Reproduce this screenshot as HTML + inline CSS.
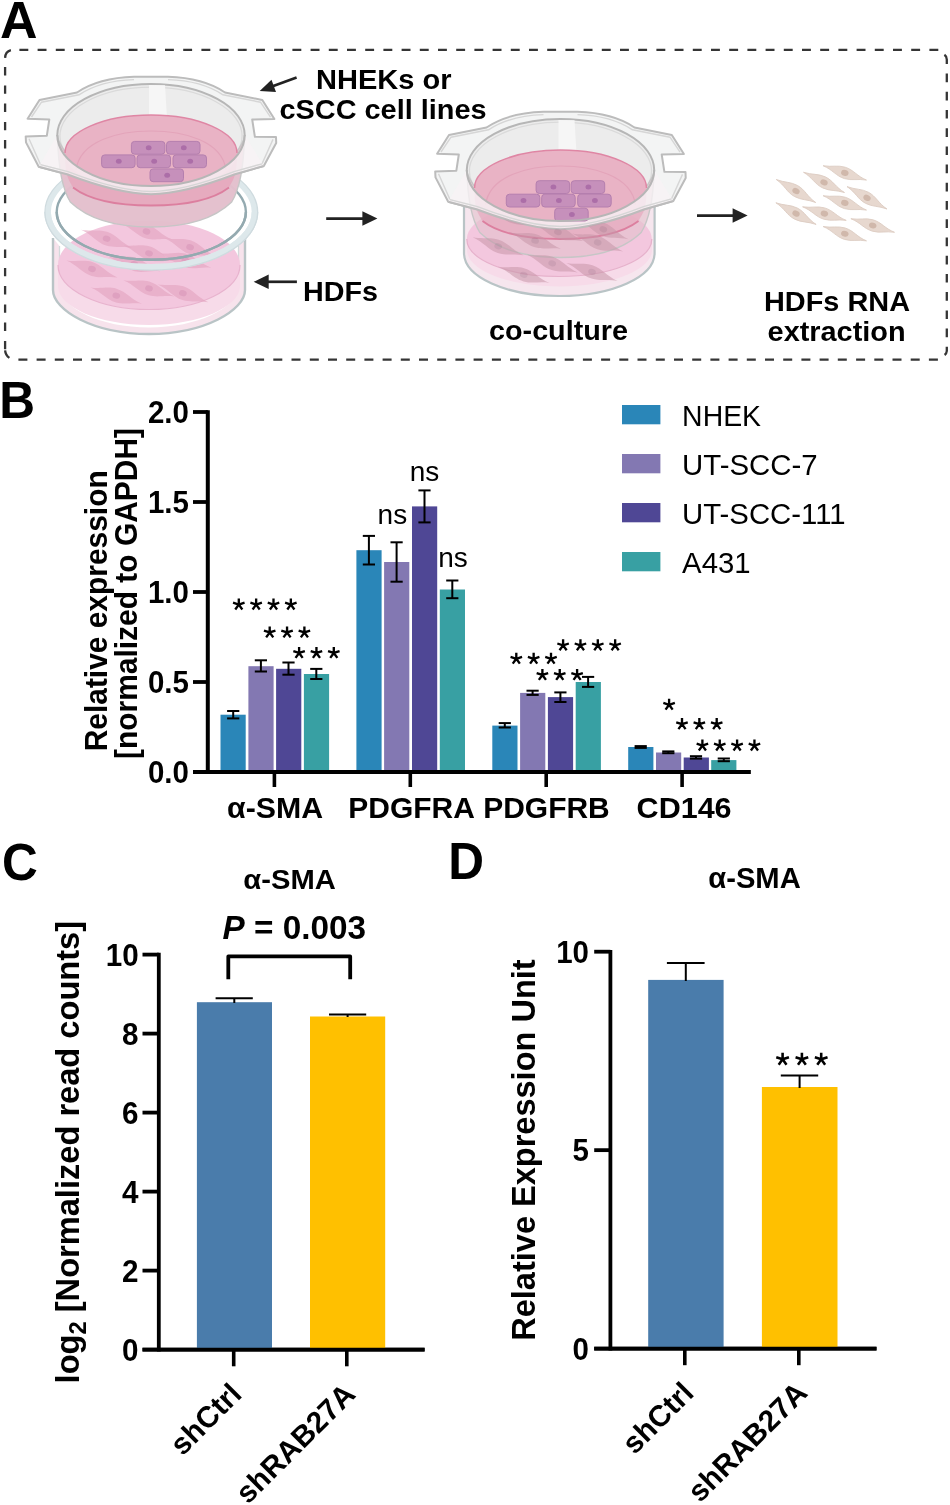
<!DOCTYPE html>
<html><head><meta charset="utf-8"><title>Figure</title>
<style>html,body{margin:0;padding:0;background:#fff;}svg{display:block;will-change:transform;font-family:'Liberation Sans', sans-serif;}</style>
</head><body>
<svg width="950" height="1505" viewBox="0 0 950 1505">
<rect x="0" y="0" width="950" height="1505" fill="#fff"/>
<text transform="translate(0.1 38.1) scale(1.0 1)" x="0" y="0" font-size="51.9" font-weight="bold" text-anchor="start" fill="#000">A</text>
<text transform="translate(-0.8 418.3) scale(0.955 1)" x="0" y="0" font-size="51.9" font-weight="bold" text-anchor="start" fill="#000">B</text>
<text transform="translate(1.9 879.6) scale(0.955 1)" x="0" y="0" font-size="51.9" font-weight="bold" text-anchor="start" fill="#000">C</text>
<text transform="translate(448.3 879.4) scale(0.955 1)" x="0" y="0" font-size="51.9" font-weight="bold" text-anchor="start" fill="#000">D</text>
<defs><clipPath id="clipFront"><rect x="30" y="212" width="250" height="70"/></clipPath><clipPath id="clipR"><path transform="translate(409.5 35)" d="M38.7,166.8 L67,174.3 C95,185 125,193.8 151,194.3 C177,193.8 207,185 235,174.3 L263.8,166 L264.5,270 L38.7,270 Z"/></clipPath></defs>
<path d="M19.4,49.8h8.9M37.6,49.8h8.9M55.8,49.8h8.9M74.0,49.8h8.9M92.2,49.8h8.9M110.4,49.8h8.9M128.6,49.8h8.9M146.8,49.8h8.9M165.0,49.8h8.9M183.2,49.8h8.9M201.4,49.8h8.9M219.6,49.8h8.9M237.8,49.8h8.9M256.0,49.8h8.9M274.2,49.8h8.9M292.4,49.8h8.9M310.6,49.8h8.9M328.8,49.8h8.9M347.0,49.8h8.9M365.2,49.8h8.9M383.4,49.8h8.9M401.6,49.8h8.9M419.8,49.8h8.9M438.0,49.8h8.9M456.2,49.8h8.9M474.4,49.8h8.9M492.6,49.8h8.9M510.8,49.8h8.9M529.0,49.8h8.9M547.2,49.8h8.9M565.4,49.8h8.9M583.6,49.8h8.9M601.8,49.8h8.9M620.0,49.8h8.9M638.2,49.8h8.9M656.4,49.8h8.9M674.6,49.8h8.9M692.8,49.8h8.9M711.0,49.8h8.9M729.2,49.8h8.9M747.4,49.8h8.9M765.6,49.8h8.9M783.8,49.8h8.9M802.0,49.8h8.9M820.2,49.8h8.9M838.4,49.8h8.9M856.6,49.8h8.9M874.8,49.8h8.9M893.0,49.8h8.9M911.2,49.8h8.9M929.4,49.8h8.9M946.8,73.5v8.7M946.8,91.7v8.7M946.8,109.9v8.7M946.8,128.2v8.7M946.8,146.4v8.7M946.8,164.6v8.7M946.8,182.8v8.7M946.8,201.0v8.7M946.8,219.3v8.7M946.8,237.5v8.7M946.8,255.7v8.7M946.8,273.9v8.7M946.8,292.1v8.7M946.8,310.4v8.7M946.8,328.6v8.7M937.9,359.6h-9M919.7,359.6h-9M901.5,359.6h-9M883.3,359.6h-9M865.1,359.6h-9M846.8,359.6h-9M828.6,359.6h-9M810.4,359.6h-9M792.2,359.6h-9M774.0,359.6h-9M755.8,359.6h-9M737.6,359.6h-9M719.4,359.6h-9M701.2,359.6h-9M683.0,359.6h-9M664.8,359.6h-9M646.5,359.6h-9M628.3,359.6h-9M610.1,359.6h-9M591.9,359.6h-9M573.7,359.6h-9M555.5,359.6h-9M537.3,359.6h-9M519.1,359.6h-9M500.9,359.6h-9M482.6,359.6h-9M464.4,359.6h-9M446.2,359.6h-9M428.0,359.6h-9M409.8,359.6h-9M391.6,359.6h-9M373.4,359.6h-9M355.2,359.6h-9M337.0,359.6h-9M318.8,359.6h-9M300.5,359.6h-9M282.3,359.6h-9M264.1,359.6h-9M245.9,359.6h-9M227.7,359.6h-9M209.5,359.6h-9M191.3,359.6h-9M173.1,359.6h-9M154.9,359.6h-9M136.7,359.6h-9M118.4,359.6h-9M100.2,359.6h-9M82.0,359.6h-9M63.8,359.6h-9M45.6,359.6h-9M27.4,359.6h-9M5.1,340.9v8.4M5.1,322.6v8.4M5.1,304.4v8.4M5.1,286.1v8.4M5.1,267.9v8.4M5.1,249.6v8.4M5.1,231.4v8.4M5.1,213.1v8.4M5.1,194.9v8.4M5.1,176.6v8.4M5.1,158.4v8.4M5.1,140.1v8.4M5.1,121.9v8.4M5.1,103.6v8.4M5.1,85.4v8.4M5.1,67.1v8.4M5.1,57.9Q5.3,51.6 10.9,50.1M944.4,54.8Q946.7,56.3 946.8,59.5V63.9M946.8,346.8V351Q946.6,353.6 944.6,355M5.1,350.3Q5.5,355.2 9.4,357.9" fill="none" stroke="#353535" stroke-width="2.3"/>
<g><path d="M53,238 L53,290 C53,310 93,334 149,334 C205,334 245,310 245,290 L245,238 L238.5,246 L238.5,288 C236,308 198,327.5 149,327.5 C100,327.5 62,308 59.5,288 L59.5,246 Z" fill="#f7e3ec" stroke="none"/><path d="M53,238 L53,290 C53,310 93,334 149,334 C205,334 245,310 245,290 L245,238" fill="none" stroke="#b9c4c6" stroke-width="2.4"/><path d="M59.5,246 L59.5,288 M238.5,246 L238.5,288" fill="none" stroke="#d3dadb" stroke-width="1.3"/><path d="M58,268 L58,286 C58,307 99,325 149,325 C199,325 240,307 240,286 L240,268 Z" fill="#f7dbe9"/><ellipse cx="149" cy="265" rx="91" ry="44.5" fill="#f3c7de"/><path d="M58,265 A91,44.5 0 0 0 240,265" fill="none" stroke="#e8b3ce" stroke-width="1.2"/><g transform="translate(106.6 238.7) rotate(16)" opacity="0.62"><path d="M-27.0,-1.6 C-16.2,-2.7 -10.8,-7.0 -1.4,-6.8 C9.4,-6.2 14.9,0.0 27.0,1.6 C16.2,2.7 10.8,7.0 1.4,6.8 C-9.4,6.2 -14.9,-0.0 -27.0,-1.6 Z" fill="#e3a5c0"/><ellipse cx="0" cy="0" rx="3.9" ry="3.0" fill="#d48aae"/></g><g transform="translate(146.5 231.5) rotate(14)" opacity="0.62"><path d="M-27.0,-1.6 C-16.2,-2.7 -10.8,-7.0 -1.4,-6.8 C9.4,-6.2 14.9,0.0 27.0,1.6 C16.2,2.7 10.8,7.0 1.4,6.8 C-9.4,6.2 -14.9,-0.0 -27.0,-1.6 Z" fill="#e3a5c0"/><ellipse cx="0" cy="0" rx="3.9" ry="3.0" fill="#d48aae"/></g><g transform="translate(190.1 247.2) rotate(16)" opacity="0.62"><path d="M-27.0,-1.6 C-16.2,-2.7 -10.8,-7.0 -1.4,-6.8 C9.4,-6.2 14.9,0.0 27.0,1.6 C16.2,2.7 10.8,7.0 1.4,6.8 C-9.4,6.2 -14.9,-0.0 -27.0,-1.6 Z" fill="#e3a5c0"/><ellipse cx="0" cy="0" rx="3.9" ry="3.0" fill="#d48aae"/></g><g transform="translate(149.0 253.3) rotate(14)" opacity="0.62"><path d="M-27.0,-1.6 C-16.2,-2.7 -10.8,-7.0 -1.4,-6.8 C9.4,-6.2 14.9,0.0 27.0,1.6 C16.2,2.7 10.8,7.0 1.4,6.8 C-9.4,6.2 -14.9,-0.0 -27.0,-1.6 Z" fill="#e3a5c0"/><ellipse cx="0" cy="0" rx="3.9" ry="3.0" fill="#d48aae"/></g><g transform="translate(185.3 260.5) rotate(12)" opacity="0.62"><path d="M-27.0,-1.6 C-16.2,-2.7 -10.8,-7.0 -1.4,-6.8 C9.4,-6.2 14.9,0.0 27.0,1.6 C16.2,2.7 10.8,7.0 1.4,6.8 C-9.4,6.2 -14.9,-0.0 -27.0,-1.6 Z" fill="#e3a5c0"/><ellipse cx="0" cy="0" rx="3.9" ry="3.0" fill="#d48aae"/></g><g transform="translate(92.0 269.0) rotate(15)" opacity="0.62"><path d="M-27.0,-1.6 C-16.2,-2.7 -10.8,-7.0 -1.4,-6.8 C9.4,-6.2 14.9,0.0 27.0,1.6 C16.2,2.7 10.8,7.0 1.4,6.8 C-9.4,6.2 -14.9,-0.0 -27.0,-1.6 Z" fill="#e3a5c0"/><ellipse cx="0" cy="0" rx="3.9" ry="3.0" fill="#d48aae"/></g><g transform="translate(134.4 264.2) rotate(12)" opacity="0.62"><path d="M-27.0,-1.6 C-16.2,-2.7 -10.8,-7.0 -1.4,-6.8 C9.4,-6.2 14.9,0.0 27.0,1.6 C16.2,2.7 10.8,7.0 1.4,6.8 C-9.4,6.2 -14.9,-0.0 -27.0,-1.6 Z" fill="#e3a5c0"/><ellipse cx="0" cy="0" rx="3.9" ry="3.0" fill="#d48aae"/></g><g transform="translate(149.0 288.4) rotate(14)" opacity="0.62"><path d="M-27.0,-1.6 C-16.2,-2.7 -10.8,-7.0 -1.4,-6.8 C9.4,-6.2 14.9,0.0 27.0,1.6 C16.2,2.7 10.8,7.0 1.4,6.8 C-9.4,6.2 -14.9,-0.0 -27.0,-1.6 Z" fill="#e3a5c0"/><ellipse cx="0" cy="0" rx="3.9" ry="3.0" fill="#d48aae"/></g><g transform="translate(182.9 293.2) rotate(16)" opacity="0.62"><path d="M-27.0,-1.6 C-16.2,-2.7 -10.8,-7.0 -1.4,-6.8 C9.4,-6.2 14.9,0.0 27.0,1.6 C16.2,2.7 10.8,7.0 1.4,6.8 C-9.4,6.2 -14.9,-0.0 -27.0,-1.6 Z" fill="#e3a5c0"/><ellipse cx="0" cy="0" rx="3.9" ry="3.0" fill="#d48aae"/></g><g transform="translate(116.3 295.6) rotate(14)" opacity="0.62"><path d="M-27.0,-1.6 C-16.2,-2.7 -10.8,-7.0 -1.4,-6.8 C9.4,-6.2 14.9,0.0 27.0,1.6 C16.2,2.7 10.8,7.0 1.4,6.8 C-9.4,6.2 -14.9,-0.0 -27.0,-1.6 Z" fill="#e3a5c0"/><ellipse cx="0" cy="0" rx="3.9" ry="3.0" fill="#d48aae"/></g></g>
<g><ellipse cx="151.3" cy="212" rx="103.4" ry="55" fill="none" stroke="#dde8eb" stroke-width="6"/><ellipse cx="151.3" cy="212" rx="106.4" ry="58" fill="none" stroke="#cfdbdf" stroke-width="1.2"/><ellipse cx="151.3" cy="212" rx="94.6" ry="47.8" fill="none" stroke="#94aab0" stroke-width="2.4"/></g>
<g transform="translate(0 0)"><path d="M134,76.8 C111,77.5 91,83 77,92.5 L39.5,100 L27.6,118.7 L49.3,119.5 L46.8,135.8 L25.7,136.4 L26,142.4 L38.7,166.8 L67,174.3 C95,185 125,193.8 151,194.3 C177,193.8 207,185 235,174.3 L263.8,166 L276.2,143 L276,137 L254.9,136.8 L252.2,119.5 L274.4,119 L262.3,100 L225,92.5 C211,83 191,77.5 168,76.8 Z" fill="#f3f4f4" stroke="#bcbcbc" stroke-width="2" stroke-linejoin="round"/><path d="M134,79.6 C112,80.3 93,85.5 79,94.8 L41.5,102.2 L31.5,117 M29,138.8 L40.5,164.6 L68,171.6 C96,182.5 125,191 151,191.5 C177,191 206,182.5 234,171.6 L262,163.8 L273,139.4 M270.5,117.2 L260.5,102.2 L223,94.8 C209,85.5 190,80.3 168,79.6" fill="none" stroke="#d6d6d6" stroke-width="1.4"/><ellipse cx="151.0" cy="135.0" rx="93.7" ry="51.0" fill="#ececec" stroke="#b6b6b6" stroke-width="2"/><ellipse cx="151.0" cy="136.0" rx="91.10000000000001" ry="48.8" fill="none" stroke="#dadada" stroke-width="1.3"/><path d="M149,85 L165,85.3 L167,118 L149,117 Z" fill="#f6f6f6"/><path d="M57.6,138 C58.3,165 62.3,189 70.3,202 C90.0,221 120.0,227 151.0,227 C182.0,227 212.0,221 231.7,202 C239.7,189 243.7,165 244.4,138 C231.7,170 194.0,186 151.0,186 C108.0,186 70.3,170 57.6,138 Z" fill="#e3bfcc" fill-opacity="0.97" stroke="#c6c6c6" stroke-width="1.4"/><path d="M65,153 C65,175 68,178.5 73,187.5 C90,200.5 120,205.5 151,205.5 C182,205.5 212,200.5 229,187.5 C234,178.5 237,175 237,153 Z" fill="#e6abbf" fill-opacity="1.0"/><path d="M73,187.5 C90,200.5 120,205.5 151,205.5 C182,205.5 212,200.5 229,187.5" fill="none" stroke="#dc7f9f" stroke-width="1.8"/><ellipse cx="151" cy="153" rx="86" ry="38" fill="#e9b3c5"/><path d="M65,153 A86,38 0 0 1 237,153" fill="none" stroke="#df86a4" stroke-width="1.5"/><path d="M76,170 C80,140 120,131 151,131 C182,131 222,140 226,170" fill="none" stroke="#e3a4ba" stroke-width="1.2"/><path d="M38.7,166.8 L67,174.3 C95,185 125,193.8 151,194.3 C177,193.8 207,185 235,174.3 L263.8,166 L244.7,135.0 C244.7,163.2 202.8,186.0 151.0,186.0 C99.2,186.0 57.3,163.2 57.3,135.0 Z" fill="#f7f3f5" fill-opacity="0.8" stroke="none"/><rect x="131.4" y="141.4" width="33.5" height="12.8" rx="3.2" ry="3.2" fill="#c690bb" stroke="#b47fae" stroke-width="1"/><ellipse cx="148.7" cy="147.8" rx="2.9" ry="2.5" fill="#ac6ea8"/><rect x="166.5" y="141.4" width="33.5" height="12.8" rx="3.2" ry="3.2" fill="#c690bb" stroke="#b47fae" stroke-width="1"/><ellipse cx="183.8" cy="147.8" rx="2.9" ry="2.5" fill="#ac6ea8"/><rect x="101.6" y="154.9" width="33.5" height="12.8" rx="3.2" ry="3.2" fill="#c690bb" stroke="#b47fae" stroke-width="1"/><ellipse cx="118.8" cy="161.3" rx="2.9" ry="2.5" fill="#ac6ea8"/><rect x="137.0" y="154.9" width="33.5" height="12.8" rx="3.2" ry="3.2" fill="#c690bb" stroke="#b47fae" stroke-width="1"/><ellipse cx="154.2" cy="161.3" rx="2.9" ry="2.5" fill="#ac6ea8"/><rect x="173.0" y="154.9" width="33.5" height="12.8" rx="3.2" ry="3.2" fill="#c690bb" stroke="#b47fae" stroke-width="1"/><ellipse cx="190.2" cy="161.3" rx="2.9" ry="2.5" fill="#ac6ea8"/><rect x="150.0" y="168.9" width="33.5" height="12.8" rx="3.2" ry="3.2" fill="#c690bb" stroke="#b47fae" stroke-width="1"/><ellipse cx="167.2" cy="175.3" rx="2.9" ry="2.5" fill="#ac6ea8"/><path d="M40.5,164.6 L68,171.6 C96,182.5 125,191 151,191.5 C177,191 206,182.5 234,171.6 L262,163.8" fill="none" stroke="#d6d6d6" stroke-width="1.4"/><path d="M38.7,166.8 L67,174.3 C95,185 125,193.8 151,194.3 C177,193.8 207,185 235,174.3 L263.8,166" fill="none" stroke="#bcbcbc" stroke-width="2"/><path d="M244.7,135.0 C244.7,163.2 202.8,186.0 151.0,186.0 C99.2,186.0 57.3,163.2 57.3,135.0" fill="none" stroke="#b6b6b6" stroke-width="2"/></g>
<g clip-path="url(#clipFront)"><ellipse cx="151.3" cy="212" rx="103.4" ry="55" fill="none" stroke="#dde8eb" stroke-width="6"/><ellipse cx="151.3" cy="212" rx="106.4" ry="58" fill="none" stroke="#cfdbdf" stroke-width="1.2"/><ellipse cx="151.3" cy="212" rx="94.6" ry="47.8" fill="none" stroke="#94aab0" stroke-width="2.4"/></g>
<g><path d="M464,195 L464,253 C464,277 506,296 559.3,296 C612.6,296 654.6,277 654.6,253 L654.6,195 Z" fill="#f6e6ee" stroke="#b9c4c6" stroke-width="2.2"/><path d="M467,240 L467,250 C467,270 508,286.5 559.3,286.5 C610.6,286.5 652,270 652,250 L652,240 Z" fill="#f7dbe9"/><ellipse cx="559.3" cy="239" rx="92.5" ry="37.5" fill="#f3c7de"/><path d="M466.8,239 A92.5,37.5 0 0 0 651.8,239" fill="none" stroke="#e6b1cb" stroke-width="1.2"/></g>
<g transform="translate(409.5 35)"><path d="M134,76.8 C111,77.5 91,83 77,92.5 L39.5,100 L27.6,118.7 L49.3,119.5 L46.8,135.8 L25.7,136.4 L26,142.4 L38.7,166.8 L67,174.3 C95,185 125,193.8 151,194.3 C177,193.8 207,185 235,174.3 L263.8,166 L276.2,143 L276,137 L254.9,136.8 L252.2,119.5 L274.4,119 L262.3,100 L225,92.5 C211,83 191,77.5 168,76.8 Z" fill="#f3f4f4" stroke="#bcbcbc" stroke-width="2" stroke-linejoin="round"/><path d="M134,79.6 C112,80.3 93,85.5 79,94.8 L41.5,102.2 L31.5,117 M29,138.8 L40.5,164.6 L68,171.6 C96,182.5 125,191 151,191.5 C177,191 206,182.5 234,171.6 L262,163.8 L273,139.4 M270.5,117.2 L260.5,102.2 L223,94.8 C209,85.5 190,80.3 168,79.6" fill="none" stroke="#d6d6d6" stroke-width="1.4"/><ellipse cx="151.0" cy="135.0" rx="93.7" ry="51.0" fill="#ececec" stroke="#b6b6b6" stroke-width="2"/><ellipse cx="151.0" cy="136.0" rx="91.10000000000001" ry="48.8" fill="none" stroke="#dadada" stroke-width="1.3"/><path d="M149,85 L165,85.3 L167,118 L149,117 Z" fill="#f6f6f6"/><path d="M57.6,138 C58.3,165 62.3,184.5 70.3,197.5 C90.0,216.5 120.0,222.5 151.0,222.5 C182.0,222.5 212.0,216.5 231.7,197.5 C239.7,184.5 243.7,165 244.4,138 C231.7,170 194.0,186 151.0,186 C108.0,186 70.3,170 57.6,138 Z" fill="#e3bfcc" fill-opacity="0.6" stroke="#c6c6c6" stroke-width="1.4"/><path d="M65,153 C65,175 68,177.0 73,186.0 C90,199.0 120,204.0 151,204.0 C182,204.0 212,199.0 229,186.0 C234,177.0 237,175 237,153 Z" fill="#e6abbf" fill-opacity="0.75"/><path d="M73,186.0 C90,199.0 120,204.0 151,204.0 C182,204.0 212,199.0 229,186.0" fill="none" stroke="#dc7f9f" stroke-width="1.8"/><ellipse cx="151" cy="153" rx="86" ry="38" fill="#e9b3c5"/><path d="M65,153 A86,38 0 0 1 237,153" fill="none" stroke="#df86a4" stroke-width="1.5"/><path d="M76,170 C80,140 120,131 151,131 C182,131 222,140 226,170" fill="none" stroke="#e3a4ba" stroke-width="1.2"/><path d="M38.7,166.8 L67,174.3 C95,185 125,193.8 151,194.3 C177,193.8 207,185 235,174.3 L263.8,166 L244.7,135.0 C244.7,163.2 202.8,186.0 151.0,186.0 C99.2,186.0 57.3,163.2 57.3,135.0 Z" fill="#f7f3f5" fill-opacity="0.8" stroke="none"/><rect x="126.6" y="145.7" width="33.5" height="12.8" rx="3.2" ry="3.2" fill="#c690bb" stroke="#b47fae" stroke-width="1"/><ellipse cx="143.9" cy="152.1" rx="2.9" ry="2.5" fill="#ac6ea8"/><rect x="161.7" y="145.7" width="33.5" height="12.8" rx="3.2" ry="3.2" fill="#c690bb" stroke="#b47fae" stroke-width="1"/><ellipse cx="178.9" cy="152.1" rx="2.9" ry="2.5" fill="#ac6ea8"/><rect x="96.8" y="159.2" width="33.5" height="12.8" rx="3.2" ry="3.2" fill="#c690bb" stroke="#b47fae" stroke-width="1"/><ellipse cx="114.0" cy="165.6" rx="2.9" ry="2.5" fill="#ac6ea8"/><rect x="132.2" y="159.2" width="33.5" height="12.8" rx="3.2" ry="3.2" fill="#c690bb" stroke="#b47fae" stroke-width="1"/><ellipse cx="149.4" cy="165.6" rx="2.9" ry="2.5" fill="#ac6ea8"/><rect x="168.2" y="159.2" width="33.5" height="12.8" rx="3.2" ry="3.2" fill="#c690bb" stroke="#b47fae" stroke-width="1"/><ellipse cx="185.4" cy="165.6" rx="2.9" ry="2.5" fill="#ac6ea8"/><rect x="145.2" y="173.2" width="33.5" height="12.8" rx="3.2" ry="3.2" fill="#c690bb" stroke="#b47fae" stroke-width="1"/><ellipse cx="162.4" cy="179.6" rx="2.9" ry="2.5" fill="#ac6ea8"/><path d="M40.5,164.6 L68,171.6 C96,182.5 125,191 151,191.5 C177,191 206,182.5 234,171.6 L262,163.8" fill="none" stroke="#d6d6d6" stroke-width="1.4"/><path d="M38.7,166.8 L67,174.3 C95,185 125,193.8 151,194.3 C177,193.8 207,185 235,174.3 L263.8,166" fill="none" stroke="#bcbcbc" stroke-width="2"/><path d="M244.7,135.0 C244.7,163.2 202.8,186.0 151.0,186.0 C99.2,186.0 57.3,163.2 57.3,135.0" fill="none" stroke="#b6b6b6" stroke-width="2"/></g>
<g clip-path="url(#clipR)"><g transform="translate(512.4 216.5) rotate(18)" opacity="0.55"><path d="M-27.0,-1.6 C-16.2,-2.6 -10.8,-6.8 -1.4,-6.5 C9.4,-6.0 14.9,0.0 27.0,1.6 C16.2,2.6 10.8,6.8 1.4,6.5 C-9.4,6.0 -14.9,-0.0 -27.0,-1.6 Z" fill="#c795a8"/><ellipse cx="0" cy="0" rx="3.9" ry="3.0" fill="#ae8094"/></g><g transform="translate(557.9 232.1) rotate(16)" opacity="0.55"><path d="M-27.0,-1.6 C-16.2,-2.6 -10.8,-6.8 -1.4,-6.5 C9.4,-6.0 14.9,0.0 27.0,1.6 C16.2,2.6 10.8,6.8 1.4,6.5 C-9.4,6.0 -14.9,-0.0 -27.0,-1.6 Z" fill="#c795a8"/><ellipse cx="0" cy="0" rx="3.9" ry="3.0" fill="#ae8094"/></g><g transform="translate(603.3 229.3) rotate(18)" opacity="0.55"><path d="M-27.0,-1.6 C-16.2,-2.6 -10.8,-6.8 -1.4,-6.5 C9.4,-6.0 14.9,0.0 27.0,1.6 C16.2,2.6 10.8,6.8 1.4,6.5 C-9.4,6.0 -14.9,-0.0 -27.0,-1.6 Z" fill="#c795a8"/><ellipse cx="0" cy="0" rx="3.9" ry="3.0" fill="#ae8094"/></g><g transform="translate(498.2 246.3) rotate(16)" opacity="0.55"><path d="M-27.0,-1.6 C-16.2,-2.6 -10.8,-6.8 -1.4,-6.5 C9.4,-6.0 14.9,0.0 27.0,1.6 C16.2,2.6 10.8,6.8 1.4,6.5 C-9.4,6.0 -14.9,-0.0 -27.0,-1.6 Z" fill="#c795a8"/><ellipse cx="0" cy="0" rx="3.9" ry="3.0" fill="#ae8094"/></g><g transform="translate(535.1 240.7) rotate(14)" opacity="0.55"><path d="M-27.0,-1.6 C-16.2,-2.6 -10.8,-6.8 -1.4,-6.5 C9.4,-6.0 14.9,0.0 27.0,1.6 C16.2,2.6 10.8,6.8 1.4,6.5 C-9.4,6.0 -14.9,-0.0 -27.0,-1.6 Z" fill="#c795a8"/><ellipse cx="0" cy="0" rx="3.9" ry="3.0" fill="#ae8094"/></g><g transform="translate(597.7 242.5) rotate(16)" opacity="0.55"><path d="M-27.0,-1.6 C-16.2,-2.6 -10.8,-6.8 -1.4,-6.5 C9.4,-6.0 14.9,0.0 27.0,1.6 C16.2,2.6 10.8,6.8 1.4,6.5 C-9.4,6.0 -14.9,-0.0 -27.0,-1.6 Z" fill="#c795a8"/><ellipse cx="0" cy="0" rx="3.9" ry="3.0" fill="#ae8094"/></g><g transform="translate(552.2 263.4) rotate(16)" opacity="0.55"><path d="M-27.0,-1.6 C-16.2,-2.6 -10.8,-6.8 -1.4,-6.5 C9.4,-6.0 14.9,0.0 27.0,1.6 C16.2,2.6 10.8,6.8 1.4,6.5 C-9.4,6.0 -14.9,-0.0 -27.0,-1.6 Z" fill="#c795a8"/><ellipse cx="0" cy="0" rx="3.9" ry="3.0" fill="#ae8094"/></g><g transform="translate(523.8 274.8) rotate(14)" opacity="0.55"><path d="M-27.0,-1.6 C-16.2,-2.6 -10.8,-6.8 -1.4,-6.5 C9.4,-6.0 14.9,0.0 27.0,1.6 C16.2,2.6 10.8,6.8 1.4,6.5 C-9.4,6.0 -14.9,-0.0 -27.0,-1.6 Z" fill="#c795a8"/><ellipse cx="0" cy="0" rx="3.9" ry="3.0" fill="#ae8094"/></g><g transform="translate(592.0 271.9) rotate(16)" opacity="0.55"><path d="M-27.0,-1.6 C-16.2,-2.6 -10.8,-6.8 -1.4,-6.5 C9.4,-6.0 14.9,0.0 27.0,1.6 C16.2,2.6 10.8,6.8 1.4,6.5 C-9.4,6.0 -14.9,-0.0 -27.0,-1.6 Z" fill="#c795a8"/><ellipse cx="0" cy="0" rx="3.9" ry="3.0" fill="#ae8094"/></g></g>
<line x1="296.6" y1="77.4" x2="271.9" y2="86.5" stroke="#222" stroke-width="2.7"/><path d="M259.7,91.0 L271.5,79.7 L276.0,91.9 Z" fill="#222"/>
<line x1="296.9" y1="281.8" x2="266.7" y2="281.8" stroke="#222" stroke-width="2.7"/><path d="M253.7,281.8 L268.7,274.6 L268.7,289.1 Z" fill="#222"/>
<line x1="326.2" y1="218.6" x2="364.4" y2="218.6" stroke="#222" stroke-width="2.7"/><path d="M377.4,218.6 L362.4,225.8 L362.4,211.3 Z" fill="#222"/>
<line x1="697.0" y1="215.6" x2="734.6" y2="215.6" stroke="#222" stroke-width="2.7"/><path d="M747.6,215.6 L732.6,222.8 L732.6,208.3 Z" fill="#222"/>
<text x="383.8" y="89.4" font-size="28" font-weight="bold" text-anchor="middle" fill="#000" textLength="135.5" lengthAdjust="spacingAndGlyphs">NHEKs or</text>
<text x="383.0" y="118.8" font-size="28" font-weight="bold" text-anchor="middle" fill="#000" textLength="207" lengthAdjust="spacingAndGlyphs">cSCC cell lines</text>
<text x="340.5" y="301.0" font-size="28" font-weight="bold" text-anchor="middle" fill="#000" textLength="75" lengthAdjust="spacingAndGlyphs">HDFs</text>
<text x="558.5" y="340.4" font-size="28" font-weight="bold" text-anchor="middle" fill="#000" textLength="139" lengthAdjust="spacingAndGlyphs">co-culture</text>
<text x="837.0" y="310.5" font-size="28" font-weight="bold" text-anchor="middle" fill="#000" textLength="146" lengthAdjust="spacingAndGlyphs">HDFs RNA</text>
<text x="836.6" y="340.9" font-size="28" font-weight="bold" text-anchor="middle" fill="#000" textLength="138" lengthAdjust="spacingAndGlyphs">extraction</text>
<g transform="translate(844.8 172.9) rotate(15)" opacity="1.0"><path d="M-22.8,-1.3 C-13.7,-2.2 -9.1,-5.8 -1.1,-5.6 C8.0,-5.2 12.5,0.0 22.8,1.3 C13.7,2.2 9.1,5.8 1.1,5.6 C-8.0,5.2 -12.5,-0.0 -22.8,-1.3 Z" fill="#e7d8cf" stroke="#dccbc1" stroke-width="0.8"/><ellipse cx="0" cy="0" rx="3.8" ry="2.9" fill="#d0b8ab"/></g>
<g transform="translate(824.0 182.4) rotate(23)" opacity="1.0"><path d="M-22.8,-1.3 C-13.7,-2.2 -9.1,-5.8 -1.1,-5.6 C8.0,-5.2 12.5,0.0 22.8,1.3 C13.7,2.2 9.1,5.8 1.1,5.6 C-8.0,5.2 -12.5,-0.0 -22.8,-1.3 Z" fill="#e7d8cf" stroke="#dccbc1" stroke-width="0.8"/><ellipse cx="0" cy="0" rx="3.8" ry="2.9" fill="#d0b8ab"/></g>
<g transform="translate(796.0 191.0) rotate(27)" opacity="1.0"><path d="M-22.8,-1.3 C-13.7,-2.2 -9.1,-5.8 -1.1,-5.6 C8.0,-5.2 12.5,0.0 22.8,1.3 C13.7,2.2 9.1,5.8 1.1,5.6 C-8.0,5.2 -12.5,-0.0 -22.8,-1.3 Z" fill="#e7d8cf" stroke="#dccbc1" stroke-width="0.8"/><ellipse cx="0" cy="0" rx="3.8" ry="2.9" fill="#d0b8ab"/></g>
<g transform="translate(867.0 197.8) rotate(26)" opacity="1.0"><path d="M-22.8,-1.3 C-13.7,-2.2 -9.1,-5.8 -1.1,-5.6 C8.0,-5.2 12.5,0.0 22.8,1.3 C13.7,2.2 9.1,5.8 1.1,5.6 C-8.0,5.2 -12.5,-0.0 -22.8,-1.3 Z" fill="#e7d8cf" stroke="#dccbc1" stroke-width="0.8"/><ellipse cx="0" cy="0" rx="3.8" ry="2.9" fill="#d0b8ab"/></g>
<g transform="translate(844.8 202.9) rotate(15)" opacity="1.0"><path d="M-22.8,-1.3 C-13.7,-2.2 -9.1,-5.8 -1.1,-5.6 C8.0,-5.2 12.5,0.0 22.8,1.3 C13.7,2.2 9.1,5.8 1.1,5.6 C-8.0,5.2 -12.5,-0.0 -22.8,-1.3 Z" fill="#e7d8cf" stroke="#dccbc1" stroke-width="0.8"/><ellipse cx="0" cy="0" rx="3.8" ry="2.9" fill="#d0b8ab"/></g>
<g transform="translate(824.4 213.6) rotate(14)" opacity="1.0"><path d="M-22.8,-1.3 C-13.7,-2.2 -9.1,-5.8 -1.1,-5.6 C8.0,-5.2 12.5,0.0 22.8,1.3 C13.7,2.2 9.1,5.8 1.1,5.6 C-8.0,5.2 -12.5,-0.0 -22.8,-1.3 Z" fill="#e7d8cf" stroke="#dccbc1" stroke-width="0.8"/><ellipse cx="0" cy="0" rx="3.8" ry="2.9" fill="#d0b8ab"/></g>
<g transform="translate(796.0 213.6) rotate(25)" opacity="1.0"><path d="M-22.8,-1.3 C-13.7,-2.2 -9.1,-5.8 -1.1,-5.6 C8.0,-5.2 12.5,0.0 22.8,1.3 C13.7,2.2 9.1,5.8 1.1,5.6 C-8.0,5.2 -12.5,-0.0 -22.8,-1.3 Z" fill="#e7d8cf" stroke="#dccbc1" stroke-width="0.8"/><ellipse cx="0" cy="0" rx="3.8" ry="2.9" fill="#d0b8ab"/></g>
<g transform="translate(872.7 225.5) rotate(14)" opacity="1.0"><path d="M-22.8,-1.3 C-13.7,-2.2 -9.1,-5.8 -1.1,-5.6 C8.0,-5.2 12.5,0.0 22.8,1.3 C13.7,2.2 9.1,5.8 1.1,5.6 C-8.0,5.2 -12.5,-0.0 -22.8,-1.3 Z" fill="#e7d8cf" stroke="#dccbc1" stroke-width="0.8"/><ellipse cx="0" cy="0" rx="3.8" ry="2.9" fill="#d0b8ab"/></g>
<g transform="translate(844.8 233.7) rotate(15)" opacity="1.0"><path d="M-22.8,-1.3 C-13.7,-2.2 -9.1,-5.8 -1.1,-5.6 C8.0,-5.2 12.5,0.0 22.8,1.3 C13.7,2.2 9.1,5.8 1.1,5.6 C-8.0,5.2 -12.5,-0.0 -22.8,-1.3 Z" fill="#e7d8cf" stroke="#dccbc1" stroke-width="0.8"/><ellipse cx="0" cy="0" rx="3.8" ry="2.9" fill="#d0b8ab"/></g>
<line x1="207.80" y1="410.20" x2="207.80" y2="774.00" stroke="#000" stroke-width="4" stroke-linecap="butt"/>
<line x1="193.00" y1="772.00" x2="750.60" y2="772.00" stroke="#000" stroke-width="4" stroke-linecap="butt"/>
<text transform="translate(188.9 783.0) scale(0.96 1)" x="0" y="0" font-size="30.7" font-weight="bold" text-anchor="end" fill="#000">0.0</text>
<line x1="193.00" y1="682.00" x2="207.80" y2="682.00" stroke="#000" stroke-width="3.8" stroke-linecap="butt"/>
<text transform="translate(188.9 693.0) scale(0.96 1)" x="0" y="0" font-size="30.7" font-weight="bold" text-anchor="end" fill="#000">0.5</text>
<line x1="193.00" y1="592.00" x2="207.80" y2="592.00" stroke="#000" stroke-width="3.8" stroke-linecap="butt"/>
<text transform="translate(188.9 603.0) scale(0.96 1)" x="0" y="0" font-size="30.7" font-weight="bold" text-anchor="end" fill="#000">1.0</text>
<line x1="193.00" y1="502.00" x2="207.80" y2="502.00" stroke="#000" stroke-width="3.8" stroke-linecap="butt"/>
<text transform="translate(188.9 513.0) scale(0.96 1)" x="0" y="0" font-size="30.7" font-weight="bold" text-anchor="end" fill="#000">1.5</text>
<line x1="193.00" y1="412.00" x2="207.80" y2="412.00" stroke="#000" stroke-width="3.8" stroke-linecap="butt"/>
<text transform="translate(188.9 423.0) scale(0.96 1)" x="0" y="0" font-size="30.7" font-weight="bold" text-anchor="end" fill="#000">2.0</text>
<rect x="220.50" y="714.70" width="25.20" height="55.80" fill="#2a86b8"/>
<rect x="248.40" y="666.20" width="25.20" height="104.30" fill="#8378b2"/>
<rect x="276.10" y="668.80" width="25.20" height="101.70" fill="#4f4795"/>
<rect x="303.90" y="674.00" width="25.20" height="96.50" fill="#38a0a3"/>
<line x1="233.20" y1="711.00" x2="233.20" y2="718.40" stroke="#000" stroke-width="2" stroke-linecap="butt"/>
<line x1="227.10" y1="711.00" x2="239.30" y2="711.00" stroke="#000" stroke-width="2" stroke-linecap="butt"/>
<line x1="227.10" y1="718.40" x2="239.30" y2="718.40" stroke="#000" stroke-width="2" stroke-linecap="butt"/>
<line x1="260.90" y1="660.30" x2="260.90" y2="671.50" stroke="#000" stroke-width="2" stroke-linecap="butt"/>
<line x1="254.80" y1="660.30" x2="267.00" y2="660.30" stroke="#000" stroke-width="2" stroke-linecap="butt"/>
<line x1="254.80" y1="671.50" x2="267.00" y2="671.50" stroke="#000" stroke-width="2" stroke-linecap="butt"/>
<line x1="288.50" y1="662.50" x2="288.50" y2="674.70" stroke="#000" stroke-width="2" stroke-linecap="butt"/>
<line x1="282.40" y1="662.50" x2="294.60" y2="662.50" stroke="#000" stroke-width="2" stroke-linecap="butt"/>
<line x1="282.40" y1="674.70" x2="294.60" y2="674.70" stroke="#000" stroke-width="2" stroke-linecap="butt"/>
<line x1="316.30" y1="668.90" x2="316.30" y2="679.00" stroke="#000" stroke-width="2" stroke-linecap="butt"/>
<line x1="310.20" y1="668.90" x2="322.40" y2="668.90" stroke="#000" stroke-width="2" stroke-linecap="butt"/>
<line x1="310.20" y1="679.00" x2="322.40" y2="679.00" stroke="#000" stroke-width="2" stroke-linecap="butt"/>
<line x1="274.40" y1="772.00" x2="274.40" y2="787.00" stroke="#000" stroke-width="3.6" stroke-linecap="butt"/>
<rect x="356.40" y="550.20" width="25.20" height="220.30" fill="#2a86b8"/>
<rect x="384.10" y="562.00" width="25.20" height="208.50" fill="#8378b2"/>
<rect x="412.00" y="506.40" width="25.20" height="264.10" fill="#4f4795"/>
<rect x="439.80" y="589.50" width="25.20" height="181.00" fill="#38a0a3"/>
<line x1="368.90" y1="535.90" x2="368.90" y2="564.50" stroke="#000" stroke-width="2" stroke-linecap="butt"/>
<line x1="362.80" y1="535.90" x2="375.00" y2="535.90" stroke="#000" stroke-width="2" stroke-linecap="butt"/>
<line x1="362.80" y1="564.50" x2="375.00" y2="564.50" stroke="#000" stroke-width="2" stroke-linecap="butt"/>
<line x1="396.60" y1="542.30" x2="396.60" y2="581.70" stroke="#000" stroke-width="2" stroke-linecap="butt"/>
<line x1="390.50" y1="542.30" x2="402.70" y2="542.30" stroke="#000" stroke-width="2" stroke-linecap="butt"/>
<line x1="390.50" y1="581.70" x2="402.70" y2="581.70" stroke="#000" stroke-width="2" stroke-linecap="butt"/>
<line x1="424.50" y1="490.40" x2="424.50" y2="522.40" stroke="#000" stroke-width="2" stroke-linecap="butt"/>
<line x1="418.40" y1="490.40" x2="430.60" y2="490.40" stroke="#000" stroke-width="2" stroke-linecap="butt"/>
<line x1="418.40" y1="522.40" x2="430.60" y2="522.40" stroke="#000" stroke-width="2" stroke-linecap="butt"/>
<line x1="452.30" y1="580.50" x2="452.30" y2="598.20" stroke="#000" stroke-width="2" stroke-linecap="butt"/>
<line x1="446.20" y1="580.50" x2="458.40" y2="580.50" stroke="#000" stroke-width="2" stroke-linecap="butt"/>
<line x1="446.20" y1="598.20" x2="458.40" y2="598.20" stroke="#000" stroke-width="2" stroke-linecap="butt"/>
<line x1="410.30" y1="772.00" x2="410.30" y2="787.00" stroke="#000" stroke-width="3.6" stroke-linecap="butt"/>
<rect x="492.30" y="725.60" width="25.20" height="44.90" fill="#2a86b8"/>
<rect x="520.10" y="692.90" width="25.20" height="77.60" fill="#8378b2"/>
<rect x="547.90" y="697.10" width="25.20" height="73.40" fill="#4f4795"/>
<rect x="575.70" y="682.00" width="25.20" height="88.50" fill="#38a0a3"/>
<line x1="504.80" y1="723.10" x2="504.80" y2="727.50" stroke="#000" stroke-width="2" stroke-linecap="butt"/>
<line x1="498.70" y1="723.10" x2="510.90" y2="723.10" stroke="#000" stroke-width="2" stroke-linecap="butt"/>
<line x1="498.70" y1="727.50" x2="510.90" y2="727.50" stroke="#000" stroke-width="2" stroke-linecap="butt"/>
<line x1="532.60" y1="690.70" x2="532.60" y2="694.90" stroke="#000" stroke-width="2" stroke-linecap="butt"/>
<line x1="526.50" y1="690.70" x2="538.70" y2="690.70" stroke="#000" stroke-width="2" stroke-linecap="butt"/>
<line x1="526.50" y1="694.90" x2="538.70" y2="694.90" stroke="#000" stroke-width="2" stroke-linecap="butt"/>
<line x1="560.40" y1="692.40" x2="560.40" y2="702.00" stroke="#000" stroke-width="2" stroke-linecap="butt"/>
<line x1="554.30" y1="692.40" x2="566.50" y2="692.40" stroke="#000" stroke-width="2" stroke-linecap="butt"/>
<line x1="554.30" y1="702.00" x2="566.50" y2="702.00" stroke="#000" stroke-width="2" stroke-linecap="butt"/>
<line x1="588.10" y1="676.90" x2="588.10" y2="686.90" stroke="#000" stroke-width="2" stroke-linecap="butt"/>
<line x1="582.00" y1="676.90" x2="594.20" y2="676.90" stroke="#000" stroke-width="2" stroke-linecap="butt"/>
<line x1="582.00" y1="686.90" x2="594.20" y2="686.90" stroke="#000" stroke-width="2" stroke-linecap="butt"/>
<line x1="546.20" y1="772.00" x2="546.20" y2="787.00" stroke="#000" stroke-width="3.6" stroke-linecap="butt"/>
<rect x="628.20" y="747.00" width="25.20" height="23.50" fill="#2a86b8"/>
<rect x="656.00" y="752.50" width="25.20" height="18.00" fill="#8378b2"/>
<rect x="683.70" y="757.50" width="25.20" height="13.00" fill="#4f4795"/>
<rect x="711.20" y="760.10" width="25.20" height="10.40" fill="#38a0a3"/>
<line x1="640.70" y1="746.10" x2="640.70" y2="747.90" stroke="#000" stroke-width="2" stroke-linecap="butt"/>
<line x1="634.60" y1="746.10" x2="646.80" y2="746.10" stroke="#000" stroke-width="2" stroke-linecap="butt"/>
<line x1="634.60" y1="747.90" x2="646.80" y2="747.90" stroke="#000" stroke-width="2" stroke-linecap="butt"/>
<line x1="668.30" y1="751.40" x2="668.30" y2="753.20" stroke="#000" stroke-width="2" stroke-linecap="butt"/>
<line x1="662.20" y1="751.40" x2="674.40" y2="751.40" stroke="#000" stroke-width="2" stroke-linecap="butt"/>
<line x1="662.20" y1="753.20" x2="674.40" y2="753.20" stroke="#000" stroke-width="2" stroke-linecap="butt"/>
<line x1="696.00" y1="756.20" x2="696.00" y2="758.60" stroke="#000" stroke-width="2" stroke-linecap="butt"/>
<line x1="689.90" y1="756.20" x2="702.10" y2="756.20" stroke="#000" stroke-width="2" stroke-linecap="butt"/>
<line x1="689.90" y1="758.60" x2="702.10" y2="758.60" stroke="#000" stroke-width="2" stroke-linecap="butt"/>
<line x1="723.80" y1="758.50" x2="723.80" y2="761.20" stroke="#000" stroke-width="2" stroke-linecap="butt"/>
<line x1="717.70" y1="758.50" x2="729.90" y2="758.50" stroke="#000" stroke-width="2" stroke-linecap="butt"/>
<line x1="717.70" y1="761.20" x2="729.90" y2="761.20" stroke="#000" stroke-width="2" stroke-linecap="butt"/>
<line x1="682.10" y1="772.00" x2="682.10" y2="787.00" stroke="#000" stroke-width="3.6" stroke-linecap="butt"/>
<line x1="193.00" y1="772.00" x2="750.60" y2="772.00" stroke="#000" stroke-width="4" stroke-linecap="butt"/>
<text x="275.1" y="818.4" font-size="30" font-weight="bold" text-anchor="middle" fill="#000" textLength="96" lengthAdjust="spacingAndGlyphs">&#945;-SMA</text>
<text x="411.6" y="818.4" font-size="30" font-weight="bold" text-anchor="middle" fill="#000" textLength="126.5" lengthAdjust="spacingAndGlyphs">PDGFRA</text>
<text x="546.5" y="818.4" font-size="30" font-weight="bold" text-anchor="middle" fill="#000" textLength="126.5" lengthAdjust="spacingAndGlyphs">PDGFRB</text>
<text x="684.1" y="818.4" font-size="30" font-weight="bold" text-anchor="middle" fill="#000" textLength="95" lengthAdjust="spacingAndGlyphs">CD146</text>
<path d="M238.80,604.58L238.80,598.52M238.80,604.58L244.56,602.70M238.80,604.58L242.36,609.48M238.80,604.58L235.24,609.48M238.80,604.58L233.04,602.70" stroke="#000" stroke-width="2.34" fill="none" stroke-linecap="butt"/>
<circle cx="238.80" cy="604.58" r="1.36" fill="#000"/>
<path d="M256.15,604.58L256.15,598.52M256.15,604.58L261.91,602.70M256.15,604.58L259.71,609.48M256.15,604.58L252.59,609.48M256.15,604.58L250.39,602.70" stroke="#000" stroke-width="2.34" fill="none" stroke-linecap="butt"/>
<circle cx="256.15" cy="604.58" r="1.36" fill="#000"/>
<path d="M273.50,604.58L273.50,598.52M273.50,604.58L279.26,602.70M273.50,604.58L277.06,609.48M273.50,604.58L269.94,609.48M273.50,604.58L267.74,602.70" stroke="#000" stroke-width="2.34" fill="none" stroke-linecap="butt"/>
<circle cx="273.50" cy="604.58" r="1.36" fill="#000"/>
<path d="M290.85,604.58L290.85,598.52M290.85,604.58L296.61,602.70M290.85,604.58L294.41,609.48M290.85,604.58L287.29,609.48M290.85,604.58L285.09,602.70" stroke="#000" stroke-width="2.34" fill="none" stroke-linecap="butt"/>
<circle cx="290.85" cy="604.58" r="1.36" fill="#000"/>
<path d="M269.70,632.48L269.70,626.42M269.70,632.48L275.46,630.60M269.70,632.48L273.26,637.38M269.70,632.48L266.14,637.38M269.70,632.48L263.94,630.60" stroke="#000" stroke-width="2.34" fill="none" stroke-linecap="butt"/>
<circle cx="269.70" cy="632.48" r="1.36" fill="#000"/>
<path d="M287.05,632.48L287.05,626.42M287.05,632.48L292.81,630.60M287.05,632.48L290.61,637.38M287.05,632.48L283.49,637.38M287.05,632.48L281.29,630.60" stroke="#000" stroke-width="2.34" fill="none" stroke-linecap="butt"/>
<circle cx="287.05" cy="632.48" r="1.36" fill="#000"/>
<path d="M304.40,632.48L304.40,626.42M304.40,632.48L310.16,630.60M304.40,632.48L307.96,637.38M304.40,632.48L300.84,637.38M304.40,632.48L298.64,630.60" stroke="#000" stroke-width="2.34" fill="none" stroke-linecap="butt"/>
<circle cx="304.40" cy="632.48" r="1.36" fill="#000"/>
<path d="M299.10,652.98L299.10,646.92M299.10,652.98L304.86,651.10M299.10,652.98L302.66,657.88M299.10,652.98L295.54,657.88M299.10,652.98L293.34,651.10" stroke="#000" stroke-width="2.34" fill="none" stroke-linecap="butt"/>
<circle cx="299.10" cy="652.98" r="1.36" fill="#000"/>
<path d="M316.45,652.98L316.45,646.92M316.45,652.98L322.21,651.10M316.45,652.98L320.01,657.88M316.45,652.98L312.89,657.88M316.45,652.98L310.69,651.10" stroke="#000" stroke-width="2.34" fill="none" stroke-linecap="butt"/>
<circle cx="316.45" cy="652.98" r="1.36" fill="#000"/>
<path d="M333.80,652.98L333.80,646.92M333.80,652.98L339.56,651.10M333.80,652.98L337.36,657.88M333.80,652.98L330.24,657.88M333.80,652.98L328.04,651.10" stroke="#000" stroke-width="2.34" fill="none" stroke-linecap="butt"/>
<circle cx="333.80" cy="652.98" r="1.36" fill="#000"/>
<text x="392.4" y="524.4" font-size="28" font-weight="normal" text-anchor="middle" fill="#000">ns</text>
<text x="424.6" y="481.2" font-size="28" font-weight="normal" text-anchor="middle" fill="#000">ns</text>
<text x="453.0" y="566.5" font-size="28" font-weight="normal" text-anchor="middle" fill="#000">ns</text>
<path d="M516.30,658.78L516.30,652.72M516.30,658.78L522.06,656.90M516.30,658.78L519.86,663.68M516.30,658.78L512.74,663.68M516.30,658.78L510.54,656.90" stroke="#000" stroke-width="2.34" fill="none" stroke-linecap="butt"/>
<circle cx="516.30" cy="658.78" r="1.36" fill="#000"/>
<path d="M533.65,658.78L533.65,652.72M533.65,658.78L539.41,656.90M533.65,658.78L537.21,663.68M533.65,658.78L530.09,663.68M533.65,658.78L527.89,656.90" stroke="#000" stroke-width="2.34" fill="none" stroke-linecap="butt"/>
<circle cx="533.65" cy="658.78" r="1.36" fill="#000"/>
<path d="M551.00,658.78L551.00,652.72M551.00,658.78L556.76,656.90M551.00,658.78L554.56,663.68M551.00,658.78L547.44,663.68M551.00,658.78L545.24,656.90" stroke="#000" stroke-width="2.34" fill="none" stroke-linecap="butt"/>
<circle cx="551.00" cy="658.78" r="1.36" fill="#000"/>
<path d="M563.10,645.38L563.10,639.32M563.10,645.38L568.86,643.50M563.10,645.38L566.66,650.28M563.10,645.38L559.54,650.28M563.10,645.38L557.34,643.50" stroke="#000" stroke-width="2.34" fill="none" stroke-linecap="butt"/>
<circle cx="563.10" cy="645.38" r="1.36" fill="#000"/>
<path d="M580.45,645.38L580.45,639.32M580.45,645.38L586.21,643.50M580.45,645.38L584.01,650.28M580.45,645.38L576.89,650.28M580.45,645.38L574.69,643.50" stroke="#000" stroke-width="2.34" fill="none" stroke-linecap="butt"/>
<circle cx="580.45" cy="645.38" r="1.36" fill="#000"/>
<path d="M597.80,645.38L597.80,639.32M597.80,645.38L603.56,643.50M597.80,645.38L601.36,650.28M597.80,645.38L594.24,650.28M597.80,645.38L592.04,643.50" stroke="#000" stroke-width="2.34" fill="none" stroke-linecap="butt"/>
<circle cx="597.80" cy="645.38" r="1.36" fill="#000"/>
<path d="M615.15,645.38L615.15,639.32M615.15,645.38L620.91,643.50M615.15,645.38L618.71,650.28M615.15,645.38L611.59,650.28M615.15,645.38L609.39,643.50" stroke="#000" stroke-width="2.34" fill="none" stroke-linecap="butt"/>
<circle cx="615.15" cy="645.38" r="1.36" fill="#000"/>
<path d="M542.40,674.98L542.40,668.92M542.40,674.98L548.16,673.10M542.40,674.98L545.96,679.88M542.40,674.98L538.84,679.88M542.40,674.98L536.64,673.10" stroke="#000" stroke-width="2.34" fill="none" stroke-linecap="butt"/>
<circle cx="542.40" cy="674.98" r="1.36" fill="#000"/>
<path d="M559.75,674.98L559.75,668.92M559.75,674.98L565.51,673.10M559.75,674.98L563.31,679.88M559.75,674.98L556.19,679.88M559.75,674.98L553.99,673.10" stroke="#000" stroke-width="2.34" fill="none" stroke-linecap="butt"/>
<circle cx="559.75" cy="674.98" r="1.36" fill="#000"/>
<path d="M577.10,674.98L577.10,668.92M577.10,674.98L582.86,673.10M577.10,674.98L580.66,679.88M577.10,674.98L573.54,679.88M577.10,674.98L571.34,673.10" stroke="#000" stroke-width="2.34" fill="none" stroke-linecap="butt"/>
<circle cx="577.10" cy="674.98" r="1.36" fill="#000"/>
<path d="M669.10,704.78L669.10,698.72M669.10,704.78L674.86,702.90M669.10,704.78L672.66,709.68M669.10,704.78L665.54,709.68M669.10,704.78L663.34,702.90" stroke="#000" stroke-width="2.34" fill="none" stroke-linecap="butt"/>
<circle cx="669.10" cy="704.78" r="1.36" fill="#000"/>
<path d="M682.00,724.18L682.00,718.12M682.00,724.18L687.76,722.30M682.00,724.18L685.56,729.08M682.00,724.18L678.44,729.08M682.00,724.18L676.24,722.30" stroke="#000" stroke-width="2.34" fill="none" stroke-linecap="butt"/>
<circle cx="682.00" cy="724.18" r="1.36" fill="#000"/>
<path d="M699.35,724.18L699.35,718.12M699.35,724.18L705.11,722.30M699.35,724.18L702.91,729.08M699.35,724.18L695.79,729.08M699.35,724.18L693.59,722.30" stroke="#000" stroke-width="2.34" fill="none" stroke-linecap="butt"/>
<circle cx="699.35" cy="724.18" r="1.36" fill="#000"/>
<path d="M716.70,724.18L716.70,718.12M716.70,724.18L722.46,722.30M716.70,724.18L720.26,729.08M716.70,724.18L713.14,729.08M716.70,724.18L710.94,722.30" stroke="#000" stroke-width="2.34" fill="none" stroke-linecap="butt"/>
<circle cx="716.70" cy="724.18" r="1.36" fill="#000"/>
<path d="M702.40,745.58L702.40,739.52M702.40,745.58L708.16,743.70M702.40,745.58L705.96,750.48M702.40,745.58L698.84,750.48M702.40,745.58L696.64,743.70" stroke="#000" stroke-width="2.34" fill="none" stroke-linecap="butt"/>
<circle cx="702.40" cy="745.58" r="1.36" fill="#000"/>
<path d="M719.75,745.58L719.75,739.52M719.75,745.58L725.51,743.70M719.75,745.58L723.31,750.48M719.75,745.58L716.19,750.48M719.75,745.58L713.99,743.70" stroke="#000" stroke-width="2.34" fill="none" stroke-linecap="butt"/>
<circle cx="719.75" cy="745.58" r="1.36" fill="#000"/>
<path d="M737.10,745.58L737.10,739.52M737.10,745.58L742.86,743.70M737.10,745.58L740.66,750.48M737.10,745.58L733.54,750.48M737.10,745.58L731.34,743.70" stroke="#000" stroke-width="2.34" fill="none" stroke-linecap="butt"/>
<circle cx="737.10" cy="745.58" r="1.36" fill="#000"/>
<path d="M754.45,745.58L754.45,739.52M754.45,745.58L760.21,743.70M754.45,745.58L758.01,750.48M754.45,745.58L750.89,750.48M754.45,745.58L748.69,743.70" stroke="#000" stroke-width="2.34" fill="none" stroke-linecap="butt"/>
<circle cx="754.45" cy="745.58" r="1.36" fill="#000"/>
<text x="106.6" y="751.3" font-size="31" font-weight="bold" text-anchor="start" fill="#000" textLength="281" lengthAdjust="spacingAndGlyphs" transform="rotate(-90 106.6 751.3)">Relative expression</text>
<text x="136.9" y="759.0" font-size="31" font-weight="bold" text-anchor="start" fill="#000" textLength="331" lengthAdjust="spacingAndGlyphs" transform="rotate(-90 136.9 759.0)">[normalized to GAPDH]</text>
<rect x="622.00" y="405.00" width="38.40" height="19.30" fill="#2a86b8"/>
<text x="682.1" y="426.1" font-size="30" font-weight="normal" text-anchor="start" fill="#000" textLength="79" lengthAdjust="spacingAndGlyphs">NHEK</text>
<rect x="622.00" y="454.00" width="38.40" height="19.30" fill="#8378b2"/>
<text x="682.1" y="474.90000000000003" font-size="30" font-weight="normal" text-anchor="start" fill="#000" textLength="135.5" lengthAdjust="spacingAndGlyphs">UT-SCC-7</text>
<rect x="622.00" y="503.00" width="38.40" height="19.30" fill="#4f4795"/>
<text x="682.1" y="523.7" font-size="30" font-weight="normal" text-anchor="start" fill="#000" textLength="163.5" lengthAdjust="spacingAndGlyphs">UT-SCC-111</text>
<rect x="622.00" y="552.00" width="38.40" height="19.30" fill="#38a0a3"/>
<text x="682.1" y="572.5" font-size="30" font-weight="normal" text-anchor="start" fill="#000" textLength="68.5" lengthAdjust="spacingAndGlyphs">A431</text>
<line x1="158.80" y1="952.80" x2="158.80" y2="1351.50" stroke="#000" stroke-width="3.8" stroke-linecap="butt"/>
<line x1="142.50" y1="1349.60" x2="424.60" y2="1349.60" stroke="#000" stroke-width="3.8" stroke-linecap="butt"/>
<text transform="translate(138.6 1360.8) scale(0.965 1)" x="0" y="0" font-size="30.7" font-weight="bold" text-anchor="end" fill="#000">0</text>
<line x1="142.50" y1="1270.60" x2="158.80" y2="1270.60" stroke="#000" stroke-width="3.8" stroke-linecap="butt"/>
<text transform="translate(138.6 1281.8) scale(0.965 1)" x="0" y="0" font-size="30.7" font-weight="bold" text-anchor="end" fill="#000">2</text>
<line x1="142.50" y1="1191.60" x2="158.80" y2="1191.60" stroke="#000" stroke-width="3.8" stroke-linecap="butt"/>
<text transform="translate(138.6 1202.8) scale(0.965 1)" x="0" y="0" font-size="30.7" font-weight="bold" text-anchor="end" fill="#000">4</text>
<line x1="142.50" y1="1112.60" x2="158.80" y2="1112.60" stroke="#000" stroke-width="3.8" stroke-linecap="butt"/>
<text transform="translate(138.6 1123.8) scale(0.965 1)" x="0" y="0" font-size="30.7" font-weight="bold" text-anchor="end" fill="#000">6</text>
<line x1="142.50" y1="1033.60" x2="158.80" y2="1033.60" stroke="#000" stroke-width="3.8" stroke-linecap="butt"/>
<text transform="translate(138.6 1044.8) scale(0.965 1)" x="0" y="0" font-size="30.7" font-weight="bold" text-anchor="end" fill="#000">8</text>
<line x1="142.50" y1="954.60" x2="158.80" y2="954.60" stroke="#000" stroke-width="3.8" stroke-linecap="butt"/>
<text transform="translate(138.6 965.8) scale(0.965 1)" x="0" y="0" font-size="30.7" font-weight="bold" text-anchor="end" fill="#000">10</text>
<rect x="196.90" y="1002.20" width="75.10" height="346.80" fill="#4a7cab"/>
<rect x="310.00" y="1016.50" width="75.20" height="332.50" fill="#ffc000"/>
<line x1="142.50" y1="1349.60" x2="424.60" y2="1349.60" stroke="#000" stroke-width="3.8" stroke-linecap="butt"/>
<line x1="234.30" y1="998.20" x2="234.30" y2="1003.00" stroke="#000" stroke-width="2" stroke-linecap="butt"/>
<line x1="215.60" y1="998.20" x2="252.80" y2="998.20" stroke="#000" stroke-width="2" stroke-linecap="butt"/>
<line x1="347.60" y1="1014.50" x2="347.60" y2="1017.00" stroke="#000" stroke-width="2" stroke-linecap="butt"/>
<line x1="329.00" y1="1014.50" x2="366.20" y2="1014.50" stroke="#000" stroke-width="2" stroke-linecap="butt"/>
<line x1="233.70" y1="1349.60" x2="233.70" y2="1366.30" stroke="#000" stroke-width="3.6" stroke-linecap="butt"/>
<line x1="346.80" y1="1349.60" x2="346.80" y2="1366.30" stroke="#000" stroke-width="3.6" stroke-linecap="butt"/>
<path d="M228.3,979.3 V956.4 H350.2 V979.3" fill="none" stroke="#000" stroke-width="3.8" stroke-linejoin="round"/>
<text x="289.6" y="888.7" font-size="27.6" font-weight="bold" text-anchor="middle" fill="#000" textLength="92.5" lengthAdjust="spacingAndGlyphs">&#945;-SMA</text>
<text x="222.5" y="939.4" font-size="33" font-weight="bold" textLength="143.5" lengthAdjust="spacingAndGlyphs"><tspan font-style="italic">P</tspan> = 0.003</text>
<text x="79.5" y="1383.4" font-size="33.8" font-weight="bold" transform="rotate(-90 79.5 1383.4)" textLength="462.5" lengthAdjust="spacingAndGlyphs">log<tspan font-size="24.5" dy="7">2</tspan><tspan dy="-7"> [Normalized read counts]</tspan></text>
<text x="243.3" y="1395.8" font-size="29.8" font-weight="bold" text-anchor="end" fill="#000" transform="rotate(-45 243.3 1395.8)">shCtrl</text>
<text x="357.0" y="1396.0" font-size="29.8" font-weight="bold" text-anchor="end" fill="#000" transform="rotate(-45 357.0 1396.0)">shRAB27A</text>
<line x1="610.40" y1="949.90" x2="610.40" y2="1350.50" stroke="#000" stroke-width="3.8" stroke-linecap="butt"/>
<line x1="594.20" y1="1348.60" x2="876.50" y2="1348.60" stroke="#000" stroke-width="3.8" stroke-linecap="butt"/>
<text transform="translate(589.0 1359.8) scale(0.96 1)" x="0" y="0" font-size="30.7" font-weight="bold" text-anchor="end" fill="#000">0</text>
<line x1="594.20" y1="1150.15" x2="610.40" y2="1150.15" stroke="#000" stroke-width="3.8" stroke-linecap="butt"/>
<text transform="translate(589.0 1161.35) scale(0.96 1)" x="0" y="0" font-size="30.7" font-weight="bold" text-anchor="end" fill="#000">5</text>
<line x1="594.20" y1="951.70" x2="610.40" y2="951.70" stroke="#000" stroke-width="3.8" stroke-linecap="butt"/>
<text transform="translate(589.0 962.9) scale(0.96 1)" x="0" y="0" font-size="30.7" font-weight="bold" text-anchor="end" fill="#000">10</text>
<rect x="648.20" y="979.90" width="75.40" height="368.10" fill="#4a7cab"/>
<rect x="761.90" y="1087.00" width="75.60" height="261.00" fill="#ffc000"/>
<line x1="594.20" y1="1348.60" x2="876.50" y2="1348.60" stroke="#000" stroke-width="3.8" stroke-linecap="butt"/>
<line x1="685.80" y1="963.00" x2="685.80" y2="981.00" stroke="#000" stroke-width="2" stroke-linecap="butt"/>
<line x1="666.90" y1="963.00" x2="704.60" y2="963.00" stroke="#000" stroke-width="2" stroke-linecap="butt"/>
<line x1="799.60" y1="1075.50" x2="799.60" y2="1088.00" stroke="#000" stroke-width="2" stroke-linecap="butt"/>
<line x1="780.80" y1="1075.50" x2="818.20" y2="1075.50" stroke="#000" stroke-width="2" stroke-linecap="butt"/>
<line x1="684.80" y1="1348.60" x2="684.80" y2="1365.20" stroke="#000" stroke-width="3.6" stroke-linecap="butt"/>
<line x1="798.80" y1="1348.60" x2="798.80" y2="1365.20" stroke="#000" stroke-width="3.6" stroke-linecap="butt"/>
<path d="M782.60,1059.33L782.60,1052.67M782.60,1059.33L788.94,1057.27M782.60,1059.33L786.52,1064.73M782.60,1059.33L778.68,1064.73M782.60,1059.33L776.26,1057.27" stroke="#000" stroke-width="2.57" fill="none" stroke-linecap="butt"/>
<circle cx="782.60" cy="1059.33" r="1.49" fill="#000"/>
<path d="M801.90,1059.33L801.90,1052.67M801.90,1059.33L808.24,1057.27M801.90,1059.33L805.82,1064.73M801.90,1059.33L797.98,1064.73M801.90,1059.33L795.56,1057.27" stroke="#000" stroke-width="2.57" fill="none" stroke-linecap="butt"/>
<circle cx="801.90" cy="1059.33" r="1.49" fill="#000"/>
<path d="M821.20,1059.33L821.20,1052.67M821.20,1059.33L827.54,1057.27M821.20,1059.33L825.12,1064.73M821.20,1059.33L817.28,1064.73M821.20,1059.33L814.86,1057.27" stroke="#000" stroke-width="2.57" fill="none" stroke-linecap="butt"/>
<circle cx="821.20" cy="1059.33" r="1.49" fill="#000"/>
<text x="754.5" y="888.4" font-size="29.5" font-weight="bold" text-anchor="middle" fill="#000" textLength="92.5" lengthAdjust="spacingAndGlyphs">&#945;-SMA</text>
<text x="534.8" y="1340.8" font-size="33.6" font-weight="bold" text-anchor="start" fill="#000" textLength="381.5" lengthAdjust="spacingAndGlyphs" transform="rotate(-90 534.8 1340.8)">Relative Expression Unit</text>
<text x="695.3" y="1394.6" font-size="29.8" font-weight="bold" text-anchor="end" fill="#000" transform="rotate(-45 695.3 1394.6)">shCtrl</text>
<text x="809.0" y="1394.6" font-size="29.8" font-weight="bold" text-anchor="end" fill="#000" transform="rotate(-45 809.0 1394.6)">shRAB27A</text>
</svg>
</body></html>
